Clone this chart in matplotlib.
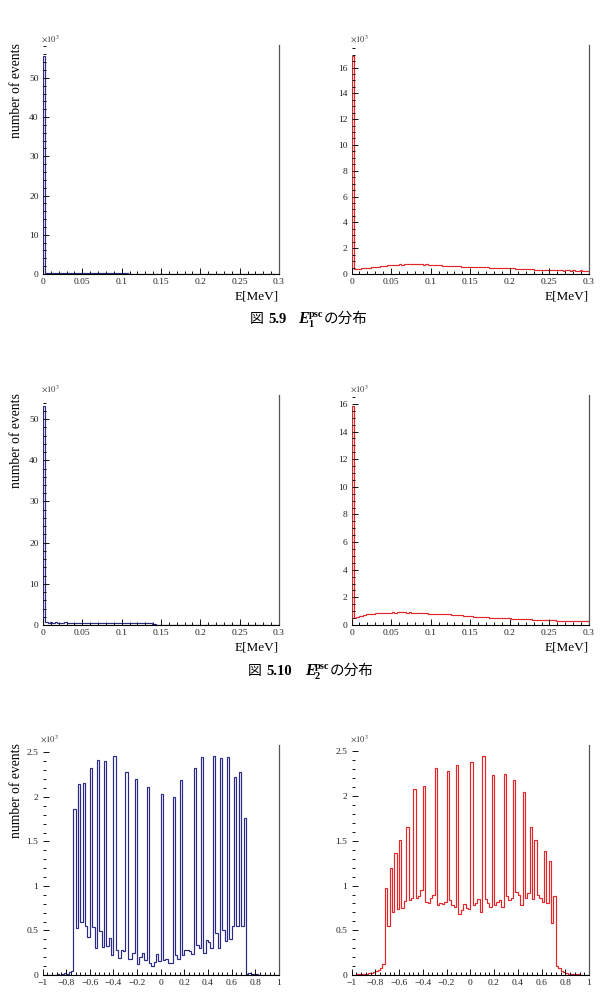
#!/usr/bin/env python3
"""Redraw the E1/E2 psc energy and position histograms (ROOT-style, three rows)."""

from __future__ import annotations

import matplotlib as mpl

mpl.use("Agg")

import matplotlib.pyplot as plt
import numpy as np
from matplotlib.ticker import FuncFormatter, MultipleLocator

W, H = 606, 1006
BLUE = "#2a2a86"
RED = "#e02626"
SERIF = "Liberation Serif"
CJK = ["Noto Sans CJK JP", "DejaVu Sans"]

# ---- data (counts in units of 10^3), 100 bins each -------------------------
E_EDGES = np.linspace(0.0, 0.3, 101)
POS_EDGES = np.linspace(-1.0, 1.0, 101)

e1_blue = [
    55.6, 0.35, 0.30, 0.32, 0.28, 0.30, 0.26, 0.28, 0.25, 0.27,
    0.30, 0.32, 0.28, 0.26, 0.30, 0.27, 0.25, 0.28, 0.26, 0.24,
    0.25, 0.23, 0.24, 0.22, 0.25, 0.21, 0.20, 0.22, 0.19, 0.18,
    0.20, 0.17, 0.16, 0.15, 0.14, 0.13, 0.12, 0.11, 0.10, 0.09,
    0.08, 0.07, 0.07, 0.06, 0.06, 0.05, 0.05, 0.05, 0.04, 0.04,
    0.04, 0.03, 0.03, 0.03, 0.03, 0.02, 0.02, 0.02, 0.02, 0.02,
    0.02, 0.01, 0.01, 0.01, 0.01, 0.01, 0.01, 0.01, 0.01, 0.01,
    0.01, 0.01, 0.01, 0.01, 0.01, 0.0, 0.0, 0.0, 0.0, 0.0,
    0.0, 0.0, 0.0, 0.0, 0.0, 0.0, 0.0, 0.0, 0.0, 0.0,
    0.0, 0.0, 0.0, 0.0, 0.0, 0.0, 0.0, 0.0, 0.0, 0.0,
]
e1_red = [
    16.9, 0.38, 0.40, 0.42, 0.44, 0.46, 0.48, 0.50, 0.52, 0.54,
    0.56, 0.58, 0.60, 0.62, 0.64, 0.66, 0.68, 0.70, 0.71, 0.72,
    0.74, 0.73, 0.75, 0.76, 0.76, 0.75, 0.77, 0.74, 0.76, 0.75,
    0.73, 0.74, 0.70, 0.69, 0.68, 0.67, 0.66, 0.66, 0.65, 0.64,
    0.63, 0.62, 0.62, 0.61, 0.60, 0.59, 0.58, 0.58, 0.57, 0.56,
    0.55, 0.55, 0.54, 0.54, 0.53, 0.53, 0.52, 0.51, 0.50, 0.50,
    0.49, 0.49, 0.48, 0.47, 0.47, 0.46, 0.45, 0.44, 0.43, 0.42,
    0.41, 0.40, 0.39, 0.38, 0.37, 0.36, 0.35, 0.34, 0.33, 0.32,
    0.31, 0.30, 0.30, 0.29, 0.29, 0.28, 0.28, 0.29, 0.28, 0.27,
    0.28, 0.28, 0.27, 0.28, 0.27, 0.27, 0.28, 0.27, 0.26, 0.27,
]
e2_blue = [
    53.2, 0.62, 0.60, 0.63, 0.58, 0.61, 0.59, 0.60, 0.57, 0.62,
    0.58, 0.60, 0.56, 0.59, 0.57, 0.60, 0.55, 0.58, 0.56, 0.57,
    0.54, 0.57, 0.55, 0.56, 0.53, 0.55, 0.52, 0.56, 0.53, 0.54,
    0.51, 0.55, 0.50, 0.52, 0.49, 0.52, 0.47, 0.50, 0.46, 0.48,
    0.44, 0.46, 0.42, 0.43, 0.40, 0.38, 0.35, 0.32, 0.05, 0.03,
    0.02, 0.02, 0.01, 0.01, 0.01, 0.0, 0.0, 0.0, 0.0, 0.0,
    0.0, 0.0, 0.0, 0.0, 0.0, 0.0, 0.0, 0.0, 0.0, 0.0,
    0.0, 0.0, 0.0, 0.0, 0.0, 0.0, 0.0, 0.0, 0.0, 0.0,
    0.0, 0.0, 0.0, 0.0, 0.0, 0.0, 0.0, 0.0, 0.0, 0.0,
    0.0, 0.0, 0.0, 0.0, 0.0, 0.0, 0.0, 0.0, 0.0, 0.0,
]
e2_red = [
    15.85, 0.50, 0.55, 0.62, 0.68, 0.72, 0.76, 0.78, 0.80, 0.82,
    0.84, 0.85, 0.86, 0.88, 0.87, 0.89, 0.90, 0.91, 0.90, 0.93,
    0.92, 0.96, 0.92, 0.90, 0.91, 0.89, 0.88, 0.90, 0.87, 0.86,
    0.88, 0.84, 0.83, 0.82, 0.81, 0.80, 0.80, 0.78, 0.79, 0.77,
    0.76, 0.78, 0.75, 0.74, 0.72, 0.71, 0.70, 0.68, 0.66, 0.64,
    0.62, 0.61, 0.60, 0.58, 0.57, 0.56, 0.55, 0.56, 0.54, 0.53,
    0.52, 0.51, 0.50, 0.50, 0.49, 0.48, 0.48, 0.47, 0.46, 0.45,
    0.45, 0.44, 0.43, 0.42, 0.41, 0.40, 0.39, 0.38, 0.38, 0.37,
    0.36, 0.35, 0.35, 0.34, 0.33, 0.33, 0.32, 0.32, 0.31, 0.31,
    0.30, 0.30, 0.29, 0.29, 0.28, 0.28, 0.27, 0.27, 0.26, 0.26,
]
pos_blue = [
    0.0, 0.0, 0.002, 0.003, 0.003, 0.005, 0.006, 0.005, 0.01, 0.02,
    0.015, 0.03, 0.04, 1.86, 0.53, 2.14, 0.59, 2.16, 0.55, 0.43,
    2.32, 0.54, 0.30, 2.42, 0.49, 0.31, 2.40, 0.33, 0.41, 0.22,
    2.46, 0.28, 0.19, 0.28, 0.27, 2.28, 0.18, 0.18, 0.25, 2.20,
    0.12, 0.20, 0.25, 0.17, 2.11, 0.14, 0.10, 0.15, 0.24, 0.16,
    2.03, 0.17, 0.18, 0.13, 0.14, 2.00, 0.23, 0.18, 2.19, 0.22,
    0.28, 0.28, 0.27, 0.24, 2.32, 0.34, 0.30, 2.45, 0.25, 0.39,
    0.37, 0.30, 2.46, 0.47, 0.30, 2.44, 0.50, 0.38, 2.45, 0.40,
    0.55, 2.22, 0.55, 2.28, 0.55, 1.76, 0.01, 0.02, 0.01, 0.015,
    0.012, 0.005, 0.003, 0.002, 0.0, 0.0, 0.0, 0.0, 0.0, 0.0,
]
pos_red = [
    0.005, 0.005, 0.008, 0.01, 0.01, 0.01, 0.015, 0.02, 0.025, 0.03,
    0.04, 0.06, 0.08, 0.12, 0.97, 0.55, 1.20, 0.71, 1.37, 0.74,
    1.51, 0.75, 0.83, 1.66, 0.84, 0.86, 2.08, 0.86, 0.88, 0.95,
    2.11, 0.82, 0.80, 0.86, 0.90, 2.31, 0.78, 0.80, 0.79, 0.82,
    2.28, 0.84, 0.78, 0.76, 2.35, 0.68, 0.73, 0.79, 0.75, 0.74,
    2.38, 0.78, 0.80, 0.85, 0.70, 2.45, 0.85, 0.80, 0.76, 2.24,
    0.78, 0.82, 0.84, 0.76, 2.25, 0.88, 0.84, 0.86, 2.18, 0.93,
    0.90, 0.78, 2.05, 0.86, 0.92, 1.66, 0.85, 1.51, 0.90, 0.86,
    0.82, 1.39, 0.80, 1.27, 0.58, 0.88, 0.10, 0.08, 0.04, 0.03,
    0.02, 0.015, 0.01, 0.01, 0.008, 0.006, 0.005, 0.004, 0.003, 0.002,
]


def _fmt(v, _pos=None):
    v = round(v, 6)
    if v == 0:
        return "0"
    return f"{v:g}".replace("-", "\u2212")


def _panel(fig, box, edges, values, color, *, xmajor, xminor, ymajor, yminor, xlabel=None, ylabel=False):
    left, right, top, bottom = box
    ax = fig.add_axes([left / W, 1 - bottom / H, (right - left) / W, (bottom - top) / H])
    vals = np.asarray(values, dtype=float)
    ax.stairs(vals, edges, color=color, linewidth=0.85, baseline=0)
    ax.set_xlim(edges[0], edges[-1])
    ax.set_ylim(0, 1.05 * vals.max())

    ax.xaxis.set_major_locator(MultipleLocator(xmajor))
    ax.xaxis.set_minor_locator(MultipleLocator(xminor))
    ax.yaxis.set_major_locator(MultipleLocator(ymajor))
    ax.yaxis.set_minor_locator(MultipleLocator(yminor))
    ax.xaxis.set_major_formatter(FuncFormatter(_fmt))
    ax.yaxis.set_major_formatter(FuncFormatter(_fmt))
    ax.tick_params(which="both", direction="in", top=False, right=False, width=0.7, color="#111111")
    ax.tick_params(which="major", length=4.3, labelsize=6.8, labelcolor="#222222")
    ax.tick_params(axis="x", which="major", pad=3.0)
    ax.tick_params(axis="y", which="major", pad=3.0)
    ax.tick_params(which="minor", length=2.2)
    for lab in ax.get_xticklabels() + ax.get_yticklabels():
        lab.set_family(SERIF)

    ax.spines["top"].set_visible(False)
    ax.spines["left"].set_visible(False)
    ax.spines["right"].set_color("#555555")
    ax.spines["right"].set_linewidth(0.9)
    ax.spines["bottom"].set_linewidth(0.8)

    fig.text((left - 2) / W, 1 - (top - 1) / H, r"$\times10^{3}$", fontsize=6.2, ha="left", va="bottom", color="#333333")
    if xlabel:
        fig.text(right / W, 1 - (bottom + 23) / H, xlabel, family=SERIF, fontsize=9.5, ha="right", va="center")
    if ylabel:
        fig.text(17 / W, 1 - (top - 2) / H, "number of events", family=SERIF, fontsize=9.8,
                 rotation=90, ha="center", va="top")
    return ax


def _caption(fig, base_y, x0, num, sub):
    y = lambda py: 1 - py / H
    fig.text(x0 / W, y(base_y), "図", family=CJK, fontsize=10.0, ha="left", va="baseline")
    fig.text((x0 + 18) / W, y(base_y), num, family=SERIF, fontweight="bold", fontsize=10.5, ha="left", va="baseline")
    ex = x0 + 18 + 8.2 * len(num) + 6
    fig.text(ex / W, y(base_y), "E", family=SERIF, fontweight="bold", fontstyle="italic", fontsize=11.5,
             ha="left", va="baseline")
    fig.text((ex + 10) / W, y(base_y - 6), "psc", family=SERIF, fontweight="bold", fontsize=7.5, ha="left", va="baseline")
    fig.text((ex + 9.5) / W, y(base_y + 4), sub, family=SERIF, fontweight="bold", fontsize=7.5, ha="left", va="baseline")
    fig.text((ex + 25) / W, y(base_y), "の分布", family=CJK, fontsize=10.5, ha="left", va="baseline")


def main() -> None:
    plt.rcParams["mathtext.fontset"] = "stix"
    fig = plt.figure(figsize=(W / 100, H / 100), dpi=100)

    e_ticks = dict(xmajor=0.05, xminor=0.01)
    pos_ticks = dict(xmajor=0.2, xminor=0.04)

    _panel(fig, (43, 279, 45, 274), E_EDGES, e1_blue, BLUE, ymajor=10, yminor=2, xlabel="E[MeV]", ylabel=True, **e_ticks)
    _panel(fig, (351.5, 589, 45, 274), E_EDGES, e1_red, RED, ymajor=2, yminor=0.5, xlabel="E[MeV]", **e_ticks)
    _panel(fig, (43, 279, 395, 625), E_EDGES, e2_blue, BLUE, ymajor=10, yminor=2, xlabel="E[MeV]", ylabel=True, **e_ticks)
    _panel(fig, (351.5, 589, 395, 625), E_EDGES, e2_red, RED, ymajor=2, yminor=0.5, xlabel="E[MeV]", **e_ticks)
    _panel(fig, (42.5, 279, 745, 975), POS_EDGES, pos_blue, BLUE, ymajor=0.5, yminor=0.1, ylabel=True, **pos_ticks)
    _panel(fig, (351.5, 589, 745, 975), POS_EDGES, pos_red, RED, ymajor=0.5, yminor=0.1, **pos_ticks)

    _caption(fig, 323, 250, "5.9", "1")
    _caption(fig, 675, 248, "5.10", "2")

    fig.savefig("out.png", dpi=100, facecolor="white")
    plt.close(fig)


if __name__ == "__main__":
    main()
